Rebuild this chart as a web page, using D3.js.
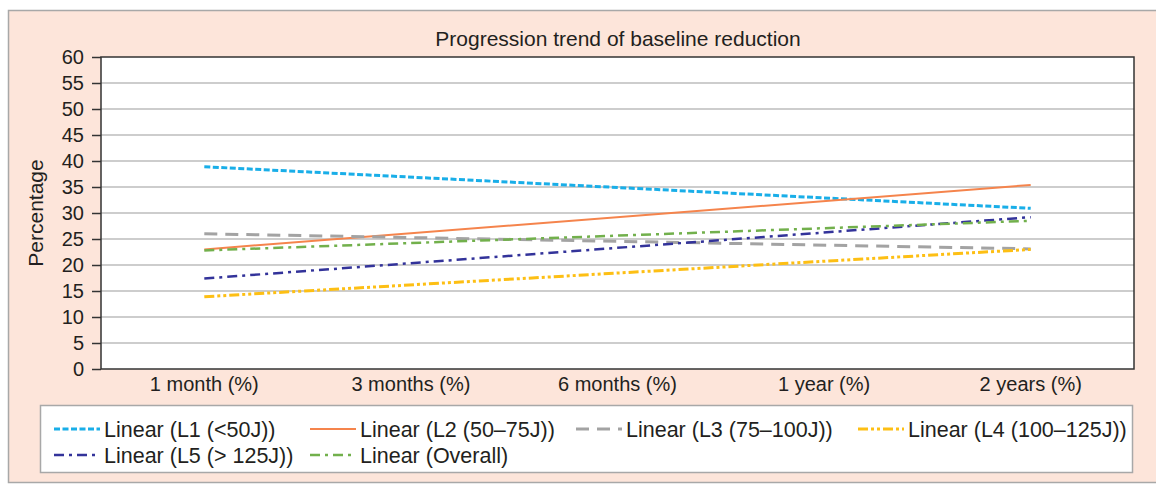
<!DOCTYPE html>
<html>
<head>
<meta charset="utf-8">
<script src="https://cdn.jsdelivr.net/npm/d3@7"></script>
<style>
  html, body { margin: 0; padding: 0; background: #fff; }
  svg { display: block; font-family: "Liberation Sans", Arial, sans-serif; }
</style>
</head>
<body>
<svg id="chart" width="1156" height="486"></svg>
<script>
// categories on the x axis
const categories = ['1 month (%)', '3 months (%)', '6 months (%)', '1 year (%)', '2 years (%)'];
const yTicks = [0, 5, 10, 15, 20, 25, 30, 35, 40, 45, 50, 55, 60];

// trend lines: value at first and last category
const seriesNames = ['Linear (L1 (<50J))', 'Linear (L2 (50\u201375J))', 'Linear (L3 (75\u2013100J))',
  'Linear (L4 (100\u2013125J))', 'Linear (L5 (> 125J))', 'Linear (Overall)'];
const startValues = [38.9, 23.0, 26.0, 13.9, 17.4, 22.8];
const endValues = [30.9, 35.4, 23.1, 23.0, 29.2, 28.5];

// line looks
const colors = ['#19aee8', '#f5844c', '#a3a3a3', '#fdbf14', '#33339a', '#72b04c'];
const dashes = ['6,2.5', null, '13,8', '10,3,3,3,3,3', '10,5,3,5', '10,5,3,5'];
const widths = [3, 2, 3, 3, 2.5, 2.5];

const svg = d3.select('#chart');
const margin = { top: 57, left: 101, right: 22, bottom: 117 };
const width = 1156 - margin.left - margin.right;
const height = 486 - margin.top - margin.bottom;
const font = '"Liberation Sans", Arial, sans-serif';

// outer chart area
svg.append('rect')
  .attr('x', 8.5).attr('y', 10.5)
  .attr('width', 1160).attr('height', 472)
  .attr('fill', '#fde5da')
  .attr('stroke', '#a8a8a8').attr('stroke-width', 1.5);

svg.append('text')
  .attr('x', 618).attr('y', 46)
  .attr('text-anchor', 'middle')
  .attr('font-size', 21).attr('fill', '#231f20')
  .text('Progression trend of baseline reduction');

const g = svg.append('g').attr('transform', 'translate(' + margin.left + ',' + margin.top + ')');

const x = d3.scaleBand().domain(categories).range([0, width]);
const y = d3.scaleLinear().domain([0, 60]).range([height, 0]);

g.append('rect')
  .attr('width', width).attr('height', height)
  .attr('fill', '#fff');

// gridlines
g.selectAll('.grid')
  .data(yTicks.filter(d => d > 0 && d < 60))
  .enter().append('line')
  .attr('x1', 0).attr('x2', width)
  .attr('y1', d => y(d)).attr('y2', d => y(d))
  .attr('stroke', '#bdbdbd').attr('stroke-width', 1.5);

// y axis
const yAxis = g.append('g')
  .call(d3.axisLeft(y).tickValues(yTicks).tickSize(9).tickPadding(8));
yAxis.select('.domain').remove();
yAxis.selectAll('line').attr('stroke', '#333').attr('stroke-width', 1.5);
yAxis.selectAll('text').attr('font-size', 20).attr('fill', '#231f20')
  .attr('font-family', font);

// x axis labels
const xAxis = g.append('g')
  .attr('transform', 'translate(0,' + height + ')')
  .call(d3.axisBottom(x).tickSize(0).tickPadding(8));
xAxis.select('.domain').remove();
xAxis.selectAll('text').attr('font-size', 20).attr('fill', '#231f20')
  .attr('font-family', font);

// plot frame
g.append('rect')
  .attr('width', width).attr('height', height)
  .attr('fill', 'none')
  .attr('stroke', '#333').attr('stroke-width', 1.5);

svg.append('text')
  .attr('transform', 'translate(43,' + (margin.top + height / 2) + ') rotate(-90)')
  .attr('text-anchor', 'middle')
  .attr('font-size', 21).attr('fill', '#231f20')
  .text('Percentage');

// trend lines
const first = categories[0];
const last = categories[categories.length - 1];
const cx = c => x(c) + x.bandwidth() / 2;

seriesNames.forEach((name, i) => {
  g.append('line')
    .attr('x1', cx(first)).attr('y1', y(startValues[i]))
    .attr('x2', cx(last)).attr('y2', y(endValues[i]))
    .attr('stroke', colors[i])
    .attr('stroke-width', widths[i])
    .attr('stroke-dasharray', dashes[i]);
});

// legend
const legend = svg.append('g');
legend.append('rect')
  .attr('x', 40.5).attr('y', 405.5)
  .attr('width', 1092).attr('height', 67)
  .attr('fill', '#fff')
  .attr('stroke', '#a8a8a8').attr('stroke-width', 1.5);

const legendX = [54, 310, 576, 858, 54, 310];
const legendY = [429, 429, 429, 429, 455, 455];

seriesNames.forEach((name, i) => {
  const item = legend.append('g').attr('transform', 'translate(' + legendX[i] + ',' + legendY[i] + ')');
  item.append('line')
    .attr('x1', 0).attr('x2', 46)
    .attr('stroke', colors[i])
    .attr('stroke-width', widths[i])
    .attr('stroke-dasharray', dashes[i]);
  item.append('text')
    .attr('x', 50).attr('y', 7.5)
    .attr('font-size', 21.5).attr('fill', '#231f20')
    .text(name);
});
</script>
</body>
</html>
